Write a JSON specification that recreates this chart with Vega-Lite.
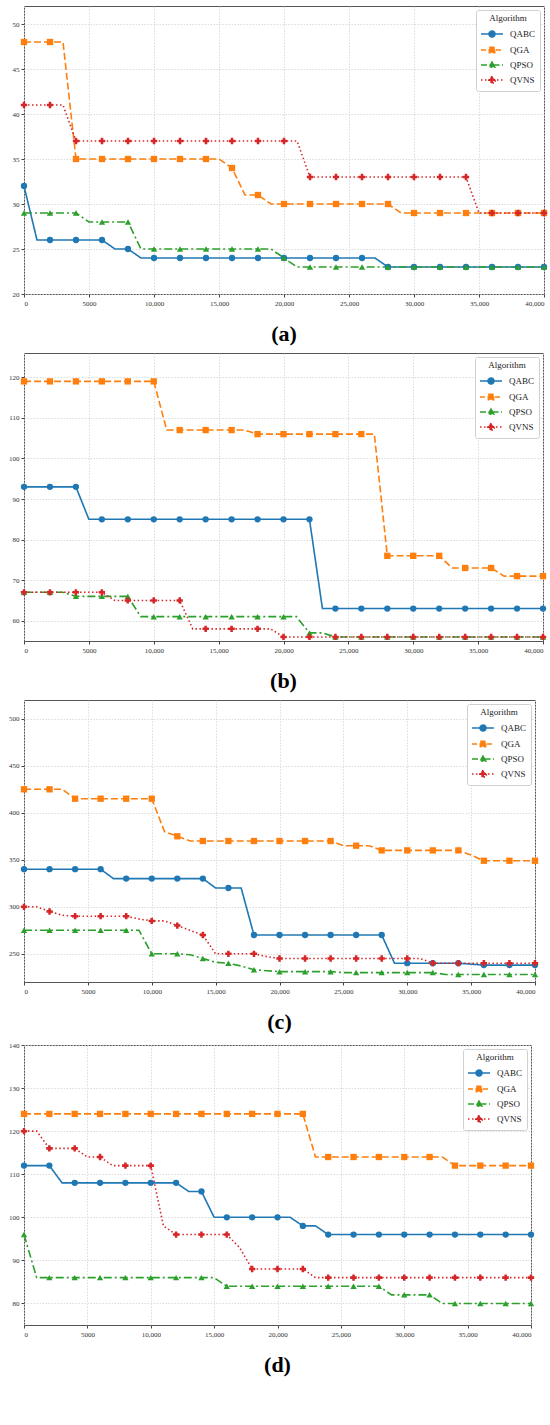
{
  "$schema": "https://vega.github.io/schema/vega-lite/v6.json",
  "padding": {"left": 0, "top": 5, "right": 0, "bottom": 0},
  "background": "white",
  "spacing": 6,
  "columns": 1,
  "resolve": {
    "scale": {"color": "independent", "shape": "independent", "strokeDash": "independent", "stroke": "independent"},
    "legend": {"color": "independent", "shape": "independent", "strokeDash": "independent", "stroke": "independent"}
  },
  "config": {
    "font": "Liberation Serif",
    "view": {"stroke": "#555", "strokeWidth": 1},
    "axis": {
      "labelFontSize": 7,
      "labelColor": "#333",
      "tickColor": "#444",
      "tickSize": 3,
      "labelPadding": 2,
      "domain": false,
      "gridColor": "#d3d3d3",
      "gridDash": [1.5, 1.5],
      "gridWidth": 0.8,
      "title": null
    },
    "legend": {
      "orient": "top-right",
      "offset": 4,
      "padding": 4,
      "fillColor": "white",
      "strokeColor": "#d0d0d0",
      "cornerRadius": 2,
      "titleFontSize": 9,
      "titleFontWeight": "normal",
      "titleColor": "#222",
      "titleAnchor": "middle",
      "titlePadding": 4,
      "labelFontSize": 9,
      "labelColor": "#222",
      "labelOffset": 16,
      "rowPadding": 2,
      "symbolSize": 144,
      "symbolStrokeWidth": 1.5,
      "symbolOpacity": 1
    },
    "title": {"font": "Liberation Serif", "fontSize": 22, "fontWeight": "bold", "color": "black", "orient": "bottom", "offset": 18}
  },
  "datasets": {
    "a": [
      {"it": 0, "QABC": 32, "QGA": 48, "QPSO": 29, "QVNS": 41},
      {"it": 1000, "QABC": 26, "QGA": 48, "QPSO": 29, "QVNS": 41},
      {"it": 2000, "QABC": 26, "QGA": 48, "QPSO": 29, "QVNS": 41},
      {"it": 3000, "QABC": 26, "QGA": 48, "QPSO": 29, "QVNS": 41},
      {"it": 4000, "QABC": 26, "QGA": 35, "QPSO": 29, "QVNS": 37},
      {"it": 5000, "QABC": 26, "QGA": 35, "QPSO": 28, "QVNS": 37},
      {"it": 6000, "QABC": 26, "QGA": 35, "QPSO": 28, "QVNS": 37},
      {"it": 7000, "QABC": 25, "QGA": 35, "QPSO": 28, "QVNS": 37},
      {"it": 8000, "QABC": 25, "QGA": 35, "QPSO": 28, "QVNS": 37},
      {"it": 9000, "QABC": 24, "QGA": 35, "QPSO": 25, "QVNS": 37},
      {"it": 10000, "QABC": 24, "QGA": 35, "QPSO": 25, "QVNS": 37},
      {"it": 11000, "QABC": 24, "QGA": 35, "QPSO": 25, "QVNS": 37},
      {"it": 12000, "QABC": 24, "QGA": 35, "QPSO": 25, "QVNS": 37},
      {"it": 13000, "QABC": 24, "QGA": 35, "QPSO": 25, "QVNS": 37},
      {"it": 14000, "QABC": 24, "QGA": 35, "QPSO": 25, "QVNS": 37},
      {"it": 15000, "QABC": 24, "QGA": 35, "QPSO": 25, "QVNS": 37},
      {"it": 16000, "QABC": 24, "QGA": 34, "QPSO": 25, "QVNS": 37},
      {"it": 17000, "QABC": 24, "QGA": 31, "QPSO": 25, "QVNS": 37},
      {"it": 18000, "QABC": 24, "QGA": 31, "QPSO": 25, "QVNS": 37},
      {"it": 19000, "QABC": 24, "QGA": 30, "QPSO": 25, "QVNS": 37},
      {"it": 20000, "QABC": 24, "QGA": 30, "QPSO": 24, "QVNS": 37},
      {"it": 21000, "QABC": 24, "QGA": 30, "QPSO": 23, "QVNS": 37},
      {"it": 22000, "QABC": 24, "QGA": 30, "QPSO": 23, "QVNS": 33},
      {"it": 23000, "QABC": 24, "QGA": 30, "QPSO": 23, "QVNS": 33},
      {"it": 24000, "QABC": 24, "QGA": 30, "QPSO": 23, "QVNS": 33},
      {"it": 25000, "QABC": 24, "QGA": 30, "QPSO": 23, "QVNS": 33},
      {"it": 26000, "QABC": 24, "QGA": 30, "QPSO": 23, "QVNS": 33},
      {"it": 27000, "QABC": 24, "QGA": 30, "QPSO": 23, "QVNS": 33},
      {"it": 28000, "QABC": 23, "QGA": 30, "QPSO": 23, "QVNS": 33},
      {"it": 29000, "QABC": 23, "QGA": 29, "QPSO": 23, "QVNS": 33},
      {"it": 30000, "QABC": 23, "QGA": 29, "QPSO": 23, "QVNS": 33},
      {"it": 31000, "QABC": 23, "QGA": 29, "QPSO": 23, "QVNS": 33},
      {"it": 32000, "QABC": 23, "QGA": 29, "QPSO": 23, "QVNS": 33},
      {"it": 33000, "QABC": 23, "QGA": 29, "QPSO": 23, "QVNS": 33},
      {"it": 34000, "QABC": 23, "QGA": 29, "QPSO": 23, "QVNS": 33},
      {"it": 35000, "QABC": 23, "QGA": 29, "QPSO": 23, "QVNS": 29},
      {"it": 36000, "QABC": 23, "QGA": 29, "QPSO": 23, "QVNS": 29},
      {"it": 37000, "QABC": 23, "QGA": 29, "QPSO": 23, "QVNS": 29},
      {"it": 38000, "QABC": 23, "QGA": 29, "QPSO": 23, "QVNS": 29},
      {"it": 39000, "QABC": 23, "QGA": 29, "QPSO": 23, "QVNS": 29},
      {"it": 40000, "QABC": 23, "QGA": 29, "QPSO": 23, "QVNS": 29}
    ],
    "b": [
      {"it": 0, "QABC": 93, "QGA": 119, "QPSO": 67, "QVNS": 67},
      {"it": 1000, "QABC": 93, "QGA": 119, "QPSO": 67, "QVNS": 67},
      {"it": 2000, "QABC": 93, "QGA": 119, "QPSO": 67, "QVNS": 67},
      {"it": 3000, "QABC": 93, "QGA": 119, "QPSO": 67, "QVNS": 67},
      {"it": 4000, "QABC": 93, "QGA": 119, "QPSO": 66, "QVNS": 67},
      {"it": 5000, "QABC": 85, "QGA": 119, "QPSO": 66, "QVNS": 67},
      {"it": 6000, "QABC": 85, "QGA": 119, "QPSO": 66, "QVNS": 67},
      {"it": 7000, "QABC": 85, "QGA": 119, "QPSO": 66, "QVNS": 65},
      {"it": 8000, "QABC": 85, "QGA": 119, "QPSO": 66, "QVNS": 65},
      {"it": 9000, "QABC": 85, "QGA": 119, "QPSO": 61, "QVNS": 65},
      {"it": 10000, "QABC": 85, "QGA": 119, "QPSO": 61, "QVNS": 65},
      {"it": 11000, "QABC": 85, "QGA": 107, "QPSO": 61, "QVNS": 65},
      {"it": 12000, "QABC": 85, "QGA": 107, "QPSO": 61, "QVNS": 65},
      {"it": 13000, "QABC": 85, "QGA": 107, "QPSO": 61, "QVNS": 58},
      {"it": 14000, "QABC": 85, "QGA": 107, "QPSO": 61, "QVNS": 58},
      {"it": 15000, "QABC": 85, "QGA": 107, "QPSO": 61, "QVNS": 58},
      {"it": 16000, "QABC": 85, "QGA": 107, "QPSO": 61, "QVNS": 58},
      {"it": 17000, "QABC": 85, "QGA": 107, "QPSO": 61, "QVNS": 58},
      {"it": 18000, "QABC": 85, "QGA": 106, "QPSO": 61, "QVNS": 58},
      {"it": 19000, "QABC": 85, "QGA": 106, "QPSO": 61, "QVNS": 58},
      {"it": 20000, "QABC": 85, "QGA": 106, "QPSO": 61, "QVNS": 56},
      {"it": 21000, "QABC": 85, "QGA": 106, "QPSO": 61, "QVNS": 56},
      {"it": 22000, "QABC": 85, "QGA": 106, "QPSO": 57, "QVNS": 56},
      {"it": 23000, "QABC": 63, "QGA": 106, "QPSO": 57, "QVNS": 56},
      {"it": 24000, "QABC": 63, "QGA": 106, "QPSO": 56, "QVNS": 56},
      {"it": 25000, "QABC": 63, "QGA": 106, "QPSO": 56, "QVNS": 56},
      {"it": 26000, "QABC": 63, "QGA": 106, "QPSO": 56, "QVNS": 56},
      {"it": 27000, "QABC": 63, "QGA": 106, "QPSO": 56, "QVNS": 56},
      {"it": 28000, "QABC": 63, "QGA": 76, "QPSO": 56, "QVNS": 56},
      {"it": 29000, "QABC": 63, "QGA": 76, "QPSO": 56, "QVNS": 56},
      {"it": 30000, "QABC": 63, "QGA": 76, "QPSO": 56, "QVNS": 56},
      {"it": 31000, "QABC": 63, "QGA": 76, "QPSO": 56, "QVNS": 56},
      {"it": 32000, "QABC": 63, "QGA": 76, "QPSO": 56, "QVNS": 56},
      {"it": 33000, "QABC": 63, "QGA": 73, "QPSO": 56, "QVNS": 56},
      {"it": 34000, "QABC": 63, "QGA": 73, "QPSO": 56, "QVNS": 56},
      {"it": 35000, "QABC": 63, "QGA": 73, "QPSO": 56, "QVNS": 56},
      {"it": 36000, "QABC": 63, "QGA": 73, "QPSO": 56, "QVNS": 56},
      {"it": 37000, "QABC": 63, "QGA": 71, "QPSO": 56, "QVNS": 56},
      {"it": 38000, "QABC": 63, "QGA": 71, "QPSO": 56, "QVNS": 56},
      {"it": 39000, "QABC": 63, "QGA": 71, "QPSO": 56, "QVNS": 56},
      {"it": 40000, "QABC": 63, "QGA": 71, "QPSO": 56, "QVNS": 56}
    ],
    "c": [
      {"it": 0, "QABC": 340, "QGA": 425, "QPSO": 275, "QVNS": 300},
      {"it": 1000, "QABC": 340, "QGA": 425, "QPSO": 275, "QVNS": 300},
      {"it": 2000, "QABC": 340, "QGA": 425, "QPSO": 275, "QVNS": 295},
      {"it": 3000, "QABC": 340, "QGA": 425, "QPSO": 275, "QVNS": 291},
      {"it": 4000, "QABC": 340, "QGA": 415, "QPSO": 275, "QVNS": 290},
      {"it": 5000, "QABC": 340, "QGA": 415, "QPSO": 275, "QVNS": 290},
      {"it": 6000, "QABC": 340, "QGA": 415, "QPSO": 275, "QVNS": 290},
      {"it": 7000, "QABC": 330, "QGA": 415, "QPSO": 275, "QVNS": 290},
      {"it": 8000, "QABC": 330, "QGA": 415, "QPSO": 275, "QVNS": 290},
      {"it": 9000, "QABC": 330, "QGA": 415, "QPSO": 275, "QVNS": 287},
      {"it": 10000, "QABC": 330, "QGA": 415, "QPSO": 250, "QVNS": 285},
      {"it": 11000, "QABC": 330, "QGA": 380, "QPSO": 250, "QVNS": 285},
      {"it": 12000, "QABC": 330, "QGA": 375, "QPSO": 250, "QVNS": 280},
      {"it": 13000, "QABC": 330, "QGA": 370, "QPSO": 249, "QVNS": 275},
      {"it": 14000, "QABC": 330, "QGA": 370, "QPSO": 245, "QVNS": 270},
      {"it": 15000, "QABC": 320, "QGA": 370, "QPSO": 241, "QVNS": 250},
      {"it": 16000, "QABC": 320, "QGA": 370, "QPSO": 240, "QVNS": 250},
      {"it": 17000, "QABC": 320, "QGA": 370, "QPSO": 237, "QVNS": 250},
      {"it": 18000, "QABC": 270, "QGA": 370, "QPSO": 233, "QVNS": 250},
      {"it": 19000, "QABC": 270, "QGA": 370, "QPSO": 232, "QVNS": 247},
      {"it": 20000, "QABC": 270, "QGA": 370, "QPSO": 231, "QVNS": 245},
      {"it": 21000, "QABC": 270, "QGA": 370, "QPSO": 231, "QVNS": 245},
      {"it": 22000, "QABC": 270, "QGA": 370, "QPSO": 231, "QVNS": 245},
      {"it": 23000, "QABC": 270, "QGA": 370, "QPSO": 231, "QVNS": 245},
      {"it": 24000, "QABC": 270, "QGA": 370, "QPSO": 231, "QVNS": 245},
      {"it": 25000, "QABC": 270, "QGA": 365, "QPSO": 230, "QVNS": 245},
      {"it": 26000, "QABC": 270, "QGA": 365, "QPSO": 230, "QVNS": 245},
      {"it": 27000, "QABC": 270, "QGA": 365, "QPSO": 230, "QVNS": 245},
      {"it": 28000, "QABC": 270, "QGA": 360, "QPSO": 230, "QVNS": 245},
      {"it": 29000, "QABC": 240, "QGA": 360, "QPSO": 230, "QVNS": 245},
      {"it": 30000, "QABC": 240, "QGA": 360, "QPSO": 230, "QVNS": 245},
      {"it": 31000, "QABC": 240, "QGA": 360, "QPSO": 230, "QVNS": 245},
      {"it": 32000, "QABC": 240, "QGA": 360, "QPSO": 230, "QVNS": 240},
      {"it": 33000, "QABC": 240, "QGA": 360, "QPSO": 228, "QVNS": 240},
      {"it": 34000, "QABC": 240, "QGA": 360, "QPSO": 228, "QVNS": 240},
      {"it": 35000, "QABC": 239, "QGA": 355, "QPSO": 228, "QVNS": 240},
      {"it": 36000, "QABC": 238, "QGA": 349, "QPSO": 228, "QVNS": 240},
      {"it": 37000, "QABC": 238, "QGA": 349, "QPSO": 228, "QVNS": 240},
      {"it": 38000, "QABC": 238, "QGA": 349, "QPSO": 228, "QVNS": 240},
      {"it": 39000, "QABC": 238, "QGA": 349, "QPSO": 228, "QVNS": 240},
      {"it": 40000, "QABC": 238, "QGA": 349, "QPSO": 228, "QVNS": 240}
    ],
    "d": [
      {"it": 0, "QABC": 112, "QGA": 124, "QPSO": 96, "QVNS": 120},
      {"it": 1000, "QABC": 112, "QGA": 124, "QPSO": 86, "QVNS": 120},
      {"it": 2000, "QABC": 112, "QGA": 124, "QPSO": 86, "QVNS": 116},
      {"it": 3000, "QABC": 108, "QGA": 124, "QPSO": 86, "QVNS": 116},
      {"it": 4000, "QABC": 108, "QGA": 124, "QPSO": 86, "QVNS": 116},
      {"it": 5000, "QABC": 108, "QGA": 124, "QPSO": 86, "QVNS": 114},
      {"it": 6000, "QABC": 108, "QGA": 124, "QPSO": 86, "QVNS": 114},
      {"it": 7000, "QABC": 108, "QGA": 124, "QPSO": 86, "QVNS": 112},
      {"it": 8000, "QABC": 108, "QGA": 124, "QPSO": 86, "QVNS": 112},
      {"it": 9000, "QABC": 108, "QGA": 124, "QPSO": 86, "QVNS": 112},
      {"it": 10000, "QABC": 108, "QGA": 124, "QPSO": 86, "QVNS": 112},
      {"it": 11000, "QABC": 108, "QGA": 124, "QPSO": 86, "QVNS": 98},
      {"it": 12000, "QABC": 108, "QGA": 124, "QPSO": 86, "QVNS": 96},
      {"it": 13000, "QABC": 106, "QGA": 124, "QPSO": 86, "QVNS": 96},
      {"it": 14000, "QABC": 106, "QGA": 124, "QPSO": 86, "QVNS": 96},
      {"it": 15000, "QABC": 100, "QGA": 124, "QPSO": 86, "QVNS": 96},
      {"it": 16000, "QABC": 100, "QGA": 124, "QPSO": 84, "QVNS": 96},
      {"it": 17000, "QABC": 100, "QGA": 124, "QPSO": 84, "QVNS": 93},
      {"it": 18000, "QABC": 100, "QGA": 124, "QPSO": 84, "QVNS": 88},
      {"it": 19000, "QABC": 100, "QGA": 124, "QPSO": 84, "QVNS": 88},
      {"it": 20000, "QABC": 100, "QGA": 124, "QPSO": 84, "QVNS": 88},
      {"it": 21000, "QABC": 100, "QGA": 124, "QPSO": 84, "QVNS": 88},
      {"it": 22000, "QABC": 98, "QGA": 124, "QPSO": 84, "QVNS": 88},
      {"it": 23000, "QABC": 98, "QGA": 114, "QPSO": 84, "QVNS": 86},
      {"it": 24000, "QABC": 96, "QGA": 114, "QPSO": 84, "QVNS": 86},
      {"it": 25000, "QABC": 96, "QGA": 114, "QPSO": 84, "QVNS": 86},
      {"it": 26000, "QABC": 96, "QGA": 114, "QPSO": 84, "QVNS": 86},
      {"it": 27000, "QABC": 96, "QGA": 114, "QPSO": 84, "QVNS": 86},
      {"it": 28000, "QABC": 96, "QGA": 114, "QPSO": 84, "QVNS": 86},
      {"it": 29000, "QABC": 96, "QGA": 114, "QPSO": 82, "QVNS": 86},
      {"it": 30000, "QABC": 96, "QGA": 114, "QPSO": 82, "QVNS": 86},
      {"it": 31000, "QABC": 96, "QGA": 114, "QPSO": 82, "QVNS": 86},
      {"it": 32000, "QABC": 96, "QGA": 114, "QPSO": 82, "QVNS": 86},
      {"it": 33000, "QABC": 96, "QGA": 114, "QPSO": 80, "QVNS": 86},
      {"it": 34000, "QABC": 96, "QGA": 112, "QPSO": 80, "QVNS": 86},
      {"it": 35000, "QABC": 96, "QGA": 112, "QPSO": 80, "QVNS": 86},
      {"it": 36000, "QABC": 96, "QGA": 112, "QPSO": 80, "QVNS": 86},
      {"it": 37000, "QABC": 96, "QGA": 112, "QPSO": 80, "QVNS": 86},
      {"it": 38000, "QABC": 96, "QGA": 112, "QPSO": 80, "QVNS": 86},
      {"it": 39000, "QABC": 96, "QGA": 112, "QPSO": 80, "QVNS": 86},
      {"it": 40000, "QABC": 96, "QGA": 112, "QPSO": 80, "QVNS": 86}
    ]
  },
  "concat": [
    {
      "width": 520,
      "height": 288,
      "title": {"text": "(a)"},
      "data": {"name": "a"},
      "transform": [{"fold": ["QABC", "QGA", "QPSO", "QVNS"], "as": ["Algorithm", "val"]}],
      "encoding": {
        "x": {"field": "it", "type": "quantitative", "scale": {"domain": [0, 40000], "nice": false}, "axis": {"values": [0, 5000, 10000, 15000, 20000, 25000, 30000, 35000, 40000], "labelExpr": "datum.value < 10000 ? '' + datum.value : format(datum.value, ',')"}},
        "y": {"field": "val", "type": "quantitative", "scale": {"domain": [20, 52], "nice": false, "zero": false}, "axis": {"values": [20, 25, 30, 35, 40, 45, 50], "minExtent": 23}}
      },
      "resolve": {"scale": {"color": "independent", "shape": "independent", "strokeDash": "independent", "stroke": "independent"}},
      "layer": [
        {"mark": {"type": "line", "strokeWidth": 1.6}, "encoding": {
          "color": {"field": "Algorithm", "type": "nominal", "scale": {"domain": ["QABC", "QGA", "QPSO", "QVNS"], "range": ["#1f77b4", "#ff7f0e", "#2ca02c", "#d62728"]}, "legend": null},
          "strokeDash": {"field": "Algorithm", "type": "nominal", "scale": {"domain": ["QABC", "QGA", "QPSO", "QVNS"], "range": [[1, 0], [7, 3], [8, 3, 2, 3], [1.5, 2.5]]}, "legend": null}}},
        {"transform": [{"filter": "datum.it % 2000 === 0"}], "mark": {"type": "point", "filled": true, "opacity": 1}, "encoding": {
          "color": {"field": "Algorithm", "type": "nominal", "scale": {"domain": ["QABC", "QGA", "QPSO", "QVNS"], "range": ["#1f77b4", "#ff7f0e", "#2ca02c", "#d62728"]}, "legend": null},
          "shape": {"field": "Algorithm", "type": "nominal", "scale": {"domain": ["QABC", "QGA", "QPSO", "QVNS"], "range": ["circle", "square", "triangle-up", "cross"]}, "legend": null},
          "size": {"value": 40}}},
        {"transform": [{"filter": "datum.it < 0"}], "mark": {"type": "point", "filled": true}, "encoding": {
          "color": {"field": "Algorithm", "type": "nominal", "title": "Algorithm", "scale": {"domain": ["QABC", "QGA", "QPSO", "QVNS"], "range": ["#1f77b4", "#ff7f0e", "#2ca02c", "#d62728"]}},
          "stroke": {"field": "Algorithm", "type": "nominal", "title": "Algorithm", "scale": {"domain": ["QABC", "QGA", "QPSO", "QVNS"], "range": ["#1f77b4", "#ff7f0e", "#2ca02c", "#d62728"]}},
          "shape": {"field": "Algorithm", "type": "nominal", "title": "Algorithm", "scale": {"domain": ["QABC", "QGA", "QPSO", "QVNS"], "range": ["M-1,0H2.667M1.333,0A0.5,0.5,0,1,1,0.333,0A0.5,0.5,0,1,1,1.333,0Z", "M-1,0H2.667M0.383,-0.45H1.283V0.45H0.383Z", "M-1,0H2.667M0.833,-0.5L1.3,0.36H0.366Z", "M-1,0H2.667M0.653,-0.55H1.013V-0.18H1.383V0.18H1.013V0.55H0.653V0.18H0.283V-0.18H0.653Z"]}},
          "strokeDash": {"field": "Algorithm", "type": "nominal", "title": "Algorithm", "scale": {"domain": ["QABC", "QGA", "QPSO", "QVNS"], "range": [[1, 0], [5, 2.5], [6, 2.5, 1.5, 2.5], [1.5, 2.5]]}}}}
      ]
    },
    {
      "width": 519,
      "height": 288,
      "title": {"text": "(b)"},
      "data": {"name": "b"},
      "transform": [{"fold": ["QABC", "QGA", "QPSO", "QVNS"], "as": ["Algorithm", "val"]}],
      "encoding": {
        "x": {"field": "it", "type": "quantitative", "scale": {"domain": [0, 40000], "nice": false}, "axis": {"values": [0, 5000, 10000, 15000, 20000, 25000, 30000, 35000, 40000], "labelExpr": "datum.value < 10000 ? '' + datum.value : format(datum.value, ',')"}},
        "y": {"field": "val", "type": "quantitative", "scale": {"domain": [55, 126], "nice": false, "zero": false}, "axis": {"values": [60, 70, 80, 90, 100, 110, 120], "minExtent": 23}}
      },
      "resolve": {"scale": {"color": "independent", "shape": "independent", "strokeDash": "independent", "stroke": "independent"}},
      "layer": [
        {"mark": {"type": "line", "strokeWidth": 1.6}, "encoding": {
          "color": {"field": "Algorithm", "type": "nominal", "scale": {"domain": ["QABC", "QGA", "QPSO", "QVNS"], "range": ["#1f77b4", "#ff7f0e", "#2ca02c", "#d62728"]}, "legend": null},
          "strokeDash": {"field": "Algorithm", "type": "nominal", "scale": {"domain": ["QABC", "QGA", "QPSO", "QVNS"], "range": [[1, 0], [7, 3], [8, 3, 2, 3], [1.5, 2.5]]}, "legend": null}}},
        {"transform": [{"filter": "datum.it % 2000 === 0"}], "mark": {"type": "point", "filled": true, "opacity": 1}, "encoding": {
          "color": {"field": "Algorithm", "type": "nominal", "scale": {"domain": ["QABC", "QGA", "QPSO", "QVNS"], "range": ["#1f77b4", "#ff7f0e", "#2ca02c", "#d62728"]}, "legend": null},
          "shape": {"field": "Algorithm", "type": "nominal", "scale": {"domain": ["QABC", "QGA", "QPSO", "QVNS"], "range": ["circle", "square", "triangle-up", "cross"]}, "legend": null},
          "size": {"value": 40}}},
        {"transform": [{"filter": "datum.it < 0"}], "mark": {"type": "point", "filled": true}, "encoding": {
          "color": {"field": "Algorithm", "type": "nominal", "title": "Algorithm", "scale": {"domain": ["QABC", "QGA", "QPSO", "QVNS"], "range": ["#1f77b4", "#ff7f0e", "#2ca02c", "#d62728"]}},
          "stroke": {"field": "Algorithm", "type": "nominal", "title": "Algorithm", "scale": {"domain": ["QABC", "QGA", "QPSO", "QVNS"], "range": ["#1f77b4", "#ff7f0e", "#2ca02c", "#d62728"]}},
          "shape": {"field": "Algorithm", "type": "nominal", "title": "Algorithm", "scale": {"domain": ["QABC", "QGA", "QPSO", "QVNS"], "range": ["M-1,0H2.667M1.333,0A0.5,0.5,0,1,1,0.333,0A0.5,0.5,0,1,1,1.333,0Z", "M-1,0H2.667M0.383,-0.45H1.283V0.45H0.383Z", "M-1,0H2.667M0.833,-0.5L1.3,0.36H0.366Z", "M-1,0H2.667M0.653,-0.55H1.013V-0.18H1.383V0.18H1.013V0.55H0.653V0.18H0.283V-0.18H0.653Z"]}},
          "strokeDash": {"field": "Algorithm", "type": "nominal", "title": "Algorithm", "scale": {"domain": ["QABC", "QGA", "QPSO", "QVNS"], "range": [[1, 0], [5, 2.5], [6, 2.5, 1.5, 2.5], [1.5, 2.5]]}}}}
      ]
    },
    {
      "width": 511,
      "height": 282,
      "title": {"text": "(c)"},
      "data": {"name": "c"},
      "transform": [{"fold": ["QABC", "QGA", "QPSO", "QVNS"], "as": ["Algorithm", "val"]}],
      "encoding": {
        "x": {"field": "it", "type": "quantitative", "scale": {"domain": [0, 40000], "nice": false}, "axis": {"values": [0, 5000, 10000, 15000, 20000, 25000, 30000, 35000, 40000], "labelExpr": "datum.value < 10000 ? '' + datum.value : format(datum.value, ',')"}},
        "y": {"field": "val", "type": "quantitative", "scale": {"domain": [220, 520], "nice": false, "zero": false}, "axis": {"values": [250, 300, 350, 400, 450, 500], "minExtent": 23}}
      },
      "resolve": {"scale": {"color": "independent", "shape": "independent", "strokeDash": "independent", "stroke": "independent"}},
      "layer": [
        {"mark": {"type": "line", "strokeWidth": 1.6}, "encoding": {
          "color": {"field": "Algorithm", "type": "nominal", "scale": {"domain": ["QABC", "QGA", "QPSO", "QVNS"], "range": ["#1f77b4", "#ff7f0e", "#2ca02c", "#d62728"]}, "legend": null},
          "strokeDash": {"field": "Algorithm", "type": "nominal", "scale": {"domain": ["QABC", "QGA", "QPSO", "QVNS"], "range": [[1, 0], [7, 3], [8, 3, 2, 3], [1.5, 2.5]]}, "legend": null}}},
        {"transform": [{"filter": "datum.it % 2000 === 0"}], "mark": {"type": "point", "filled": true, "opacity": 1}, "encoding": {
          "color": {"field": "Algorithm", "type": "nominal", "scale": {"domain": ["QABC", "QGA", "QPSO", "QVNS"], "range": ["#1f77b4", "#ff7f0e", "#2ca02c", "#d62728"]}, "legend": null},
          "shape": {"field": "Algorithm", "type": "nominal", "scale": {"domain": ["QABC", "QGA", "QPSO", "QVNS"], "range": ["circle", "square", "triangle-up", "cross"]}, "legend": null},
          "size": {"value": 40}}},
        {"transform": [{"filter": "datum.it < 0"}], "mark": {"type": "point", "filled": true}, "encoding": {
          "color": {"field": "Algorithm", "type": "nominal", "title": "Algorithm", "scale": {"domain": ["QABC", "QGA", "QPSO", "QVNS"], "range": ["#1f77b4", "#ff7f0e", "#2ca02c", "#d62728"]}},
          "stroke": {"field": "Algorithm", "type": "nominal", "title": "Algorithm", "scale": {"domain": ["QABC", "QGA", "QPSO", "QVNS"], "range": ["#1f77b4", "#ff7f0e", "#2ca02c", "#d62728"]}},
          "shape": {"field": "Algorithm", "type": "nominal", "title": "Algorithm", "scale": {"domain": ["QABC", "QGA", "QPSO", "QVNS"], "range": ["M-1,0H2.667M1.333,0A0.5,0.5,0,1,1,0.333,0A0.5,0.5,0,1,1,1.333,0Z", "M-1,0H2.667M0.383,-0.45H1.283V0.45H0.383Z", "M-1,0H2.667M0.833,-0.5L1.3,0.36H0.366Z", "M-1,0H2.667M0.653,-0.55H1.013V-0.18H1.383V0.18H1.013V0.55H0.653V0.18H0.283V-0.18H0.653Z"]}},
          "strokeDash": {"field": "Algorithm", "type": "nominal", "title": "Algorithm", "scale": {"domain": ["QABC", "QGA", "QPSO", "QVNS"], "range": [[1, 0], [5, 2.5], [6, 2.5, 1.5, 2.5], [1.5, 2.5]]}}}}
      ]
    },
    {
      "width": 507,
      "height": 280,
      "title": {"text": "(d)"},
      "data": {"name": "d"},
      "transform": [{"fold": ["QABC", "QGA", "QPSO", "QVNS"], "as": ["Algorithm", "val"]}],
      "encoding": {
        "x": {"field": "it", "type": "quantitative", "scale": {"domain": [0, 40000], "nice": false}, "axis": {"values": [0, 5000, 10000, 15000, 20000, 25000, 30000, 35000, 40000], "labelExpr": "datum.value < 10000 ? '' + datum.value : format(datum.value, ',')"}},
        "y": {"field": "val", "type": "quantitative", "scale": {"domain": [75, 140], "nice": false, "zero": false}, "axis": {"values": [80, 90, 100, 110, 120, 130, 140], "minExtent": 23}}
      },
      "resolve": {"scale": {"color": "independent", "shape": "independent", "strokeDash": "independent", "stroke": "independent"}},
      "layer": [
        {"mark": {"type": "line", "strokeWidth": 1.6}, "encoding": {
          "color": {"field": "Algorithm", "type": "nominal", "scale": {"domain": ["QABC", "QGA", "QPSO", "QVNS"], "range": ["#1f77b4", "#ff7f0e", "#2ca02c", "#d62728"]}, "legend": null},
          "strokeDash": {"field": "Algorithm", "type": "nominal", "scale": {"domain": ["QABC", "QGA", "QPSO", "QVNS"], "range": [[1, 0], [7, 3], [8, 3, 2, 3], [1.5, 2.5]]}, "legend": null}}},
        {"transform": [{"filter": "datum.it % 2000 === 0"}], "mark": {"type": "point", "filled": true, "opacity": 1}, "encoding": {
          "color": {"field": "Algorithm", "type": "nominal", "scale": {"domain": ["QABC", "QGA", "QPSO", "QVNS"], "range": ["#1f77b4", "#ff7f0e", "#2ca02c", "#d62728"]}, "legend": null},
          "shape": {"field": "Algorithm", "type": "nominal", "scale": {"domain": ["QABC", "QGA", "QPSO", "QVNS"], "range": ["circle", "square", "triangle-up", "cross"]}, "legend": null},
          "size": {"value": 40}}},
        {"transform": [{"filter": "datum.it < 0"}], "mark": {"type": "point", "filled": true}, "encoding": {
          "color": {"field": "Algorithm", "type": "nominal", "title": "Algorithm", "scale": {"domain": ["QABC", "QGA", "QPSO", "QVNS"], "range": ["#1f77b4", "#ff7f0e", "#2ca02c", "#d62728"]}},
          "stroke": {"field": "Algorithm", "type": "nominal", "title": "Algorithm", "scale": {"domain": ["QABC", "QGA", "QPSO", "QVNS"], "range": ["#1f77b4", "#ff7f0e", "#2ca02c", "#d62728"]}},
          "shape": {"field": "Algorithm", "type": "nominal", "title": "Algorithm", "scale": {"domain": ["QABC", "QGA", "QPSO", "QVNS"], "range": ["M-1,0H2.667M1.333,0A0.5,0.5,0,1,1,0.333,0A0.5,0.5,0,1,1,1.333,0Z", "M-1,0H2.667M0.383,-0.45H1.283V0.45H0.383Z", "M-1,0H2.667M0.833,-0.5L1.3,0.36H0.366Z", "M-1,0H2.667M0.653,-0.55H1.013V-0.18H1.383V0.18H1.013V0.55H0.653V0.18H0.283V-0.18H0.653Z"]}},
          "strokeDash": {"field": "Algorithm", "type": "nominal", "title": "Algorithm", "scale": {"domain": ["QABC", "QGA", "QPSO", "QVNS"], "range": [[1, 0], [5, 2.5], [6, 2.5, 1.5, 2.5], [1.5, 2.5]]}}}}
      ]
    }
  ]
}
